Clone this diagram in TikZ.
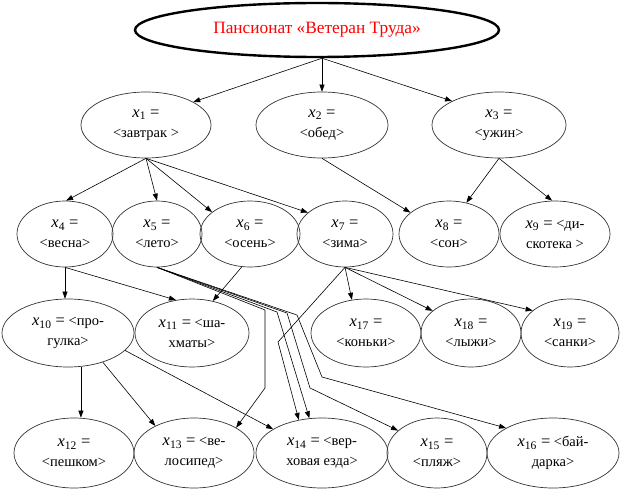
\documentclass[tikz,border=0pt]{standalone}
\usepackage{fontspec}
\setmainfont{Liberation Serif}
\usetikzlibrary{shapes.geometric,arrows.meta}
\newcommand{\xs}[1]{{\fontsize{16.5}{20}\selectfont\textit{x}\textsubscript{#1} =}}
\begin{document}
\begin{tikzpicture}[x=1pt,y=-1pt,
  el/.style={ellipse,draw=black!80,line width=0.7pt,inner sep=0pt,align=center,
    font=\fontsize{14.5}{20}\selectfont},
  arr/.style={-{Triangle[length=7pt,width=5pt]},line width=0.6pt},
  lv1/.style={el,minimum height=66pt},
  lv2/.style={el,minimum height=66pt},
  lv3/.style={el,minimum height=68pt},
  lv4/.style={el,minimum height=70pt}]
\useasboundingbox (0,0) rectangle (620,489);
% title
\node[ellipse,draw,line width=2.4pt,minimum width=364pt,minimum height=54pt,inner sep=0pt,
  text=red,font=\fontsize{17.3}{20}\selectfont] (T) at (317,30) {Пансионат «Ветеран Труда»};
% level 1
\node[lv1,minimum width=130pt] (x1) at (146,125) {\xs{1}\\<завтрак >};
\node[lv1,minimum width=132pt] (x2) at (322,125) {\xs{2}\\<обед>};
\node[lv1,minimum width=134pt] (x3) at (499,125) {\xs{3}\\<ужин>};
% level 2
\node[lv2,minimum width=96pt]  (x4) at (65,234)  {\xs{4}\\<весна>};
\node[lv2,minimum width=90pt]  (x5) at (157,234) {\xs{5}\\<лето>};
\node[lv2,minimum width=100pt] (x6) at (250,234) {\xs{6}\\<осень>};
\node[lv2,minimum width=96pt]  (x7) at (345,234) {\xs{7}\\<зима>};
\node[lv2,minimum width=100pt] (x8) at (449,234) {\xs{8}\\<сон>};
\node[lv2,minimum width=110pt] (x9) at (555,234) {\xs{9} <ди-\\скотека >};
% level 3
\node[lv3,minimum width=132pt] (x10) at (68,333)  {\xs{10} <про-\\гулка>};
\node[lv3,minimum width=114pt] (x11) at (192,333) {\xs{11} <ша-\\хматы>};
\node[lv3,minimum width=110pt] (x17) at (366,333) {\xs{17}\\<коньки>};
\node[lv3,minimum width=100pt] (x18) at (471,333) {\xs{18}\\<лыжи>};
\node[lv3,minimum width=98pt]  (x19) at (570,333) {\xs{19}\\<санки>};
% level 4
\node[lv4,minimum width=120pt] (x12) at (74,453)  {\xs{12}\\<пешком>};
\node[lv4,minimum width=120pt] (x13) at (194,453) {\xs{13} <ве-\\лосипед>};
\node[lv4,minimum width=132pt] (x14) at (322,453) {\xs{14} <вер-\\ховая езда>};
\node[lv4,minimum width=100pt] (x15) at (437,453) {\xs{15}\\<пляж>};
\node[lv4,minimum width=132pt] (x16) at (553,453) {\xs{16} <бай-\\дарка>};
% bend points
\coordinate (b13) at (265,310); \coordinate (c13) at (265,388);
\coordinate (b14) at (277,312);
\coordinate (b15) at (287,313); \coordinate (c15) at (310,388);
\coordinate (b16) at (297,315); \coordinate (c16) at (322,377);
\coordinate (b7)  at (278,342);
% connectors
\draw[arr] (T.south -| x2.north) -- (x2.north);
\draw[arr] (T.south -| x2.north) -- (x1.26);
\draw[arr] (T.south -| x2.north) -- (x3.153);
\draw[arr] (x1.south) -- (x4.88);
\draw[arr] (x1.south) -- (x5.north);
\draw[arr] (x1.south) -- (x6.150);
\draw[arr] (x1.south) -- (x7.150);
\draw[arr] (x2.south) -- (x8.151);
\draw[arr] (x3.south) -- (x8.61);
\draw[arr] (x3.south) -- (x9.95);
\draw[arr] (x4.south) -- (x4.south |- x10.north);
\draw[arr] (x4.south) -- (x11.116);
\draw[arr] (x6.-104) -- (x11.57);
\draw[arr] (x5.south) -- (b13) -- (c13) -- (x13.31);
\draw[arr] (x5.south) -- (b14) -- (x14.110);
\draw[arr] (x5.south) -- (b15) -- (c15) -- (x15.150);
\draw[arr] (x5.south) -- (b16) -- (c16) -- (x16.152);
\draw[arr] (x7.south) -- (b7) -- (x14.125);
\draw[arr] (x7.south) -- (x17.113);
\draw[arr] (x7.south) -- (x18.150);
\draw[arr] (x7.south) -- (x19.149);
\draw[arr] (x10.-69) -- (x10.-69 |- x12.north);
\draw[arr] (x10.-40) -- (x13.145);
\draw[arr] (x10.-17) -- (x14.154);
\end{tikzpicture}
\end{document}
